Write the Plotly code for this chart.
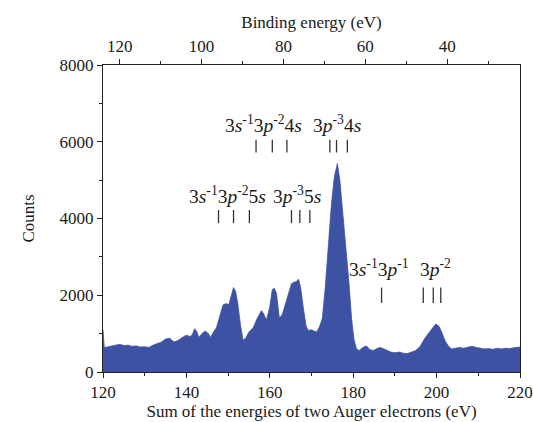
import plotly.graph_objects as go

# Spectrum (sum of energies of two Auger electrons, eV) and counts
energy = [120.0, 120.3, 121, 122, 123, 124, 125, 126, 127, 128, 129, 130, 131, 132, 133, 134,
          135, 136, 137, 138, 139, 140, 141, 141.5, 142, 142.5, 143, 143.7, 144.5, 145.3, 145.8,
          146.5, 147.2, 148, 148.8, 149.5, 150.2, 150.8, 151.3, 151.8, 152.3, 153, 153.6, 154.2,
          155, 156, 157, 158, 158.6, 159.2, 160, 160.6, 161.1, 161.6, 162.3, 163, 163.7, 164.5,
          165.2, 165.8, 166.3, 166.9, 167.4, 168, 168.7, 169.2, 170, 170.7, 171.3, 172, 172.6,
          173.3, 174, 174.8, 175.5, 176.2, 176.8, 177.5, 178.2, 179, 179.6, 180.2, 180.8, 181.5,
          182.3, 183.2, 184, 184.8, 185.5, 186.3, 187, 188, 189, 190, 191, 192, 193, 194, 195,
          196, 197, 198, 199, 199.8, 200.5, 201.2, 202, 202.8, 203.6, 204.5, 205.5, 206.5, 207.5,
          208.5, 209.5, 210.5, 211.5, 212.5, 213.5, 214.5, 215.5, 216.5, 217.5, 218.5, 219.3, 220]
counts = [1100, 640, 650, 680, 700, 720, 690, 700, 670, 680, 650, 660, 640, 700, 740, 780,
          860, 880, 780, 820, 900, 960, 920, 1000, 1130, 1050, 900, 1000, 1070, 1000, 900,
          1050, 1150, 1450, 1750, 1780, 1760, 2000, 2200, 2100, 1800, 1200, 830, 880,
          1040, 1150, 1400, 1600, 1500, 1350, 1700, 2150, 2180, 2050, 1400, 1500, 1750, 2100,
          2300, 2340, 2350, 2420, 2200, 1700, 1200, 1080, 1100, 1060, 1050, 1200, 1400,
          2200, 3200, 4400, 5100, 5430, 5000, 4200, 3200, 2300, 1400, 850, 600, 560,
          640, 680, 580, 560, 600, 640, 620, 560, 520, 500, 520, 490, 480, 520, 560,
          660, 850, 1000, 1150, 1250, 1200, 1050, 820, 680, 600, 610, 640, 620, 650,
          670, 640, 620, 600, 610, 590, 620, 600, 620, 610, 630, 640, 650]

# Assignment labels and their marker positions
label_texts = ["3<i>s</i><sup>-1</sup>3<i>p</i><sup>-2</sup>4<i>s</i>",
               "3<i>p</i><sup>-3</sup>4<i>s</i>",
               "3<i>s</i><sup>-1</sup>3<i>p</i><sup>-2</sup>5<i>s</i>",
               "3<i>p</i><sup>-3</sup>5<i>s</i>",
               "3<i>s</i><sup>-1</sup>3<i>p</i><sup>-1</sup>",
               "3<i>p</i><sup>-2</sup>"]
label_x = [158.5, 176.0, 149.9, 166.5, 186.2, 199.8]
label_y = [6450, 6450, 4600, 4600, 2700, 2700]
marker_x = [[156.7, 160.6, 164.1], [174.4, 176.0, 178.6], [147.7, 151.3, 155.1],
            [165.2, 167.2, 169.6], [186.8], [196.8, 199.2, 201.0]]
marker_lo = [5720, 5720, 3880, 3880, 1800, 1800]
marker_hi = [6050, 6050, 4220, 4220, 2200, 2200]

# Top axis (binding energy)
be_ticks = [120, 100, 80, 60, 40]
be_range = [124.1, 22.2]

fig = go.Figure()
fig.add_trace(go.Scatter(x=energy, y=counts, mode="lines", fill="tozeroy",
                         line=dict(color="rgb(62,82,164)", width=0.8),
                         fillcolor="rgb(62,82,164)", showlegend=False, hoverinfo="skip"))

mx, my = [], []
for xs, lo, hi in zip(marker_x, marker_lo, marker_hi):
    for xv in xs:
        mx += [xv, xv, None]
        my += [lo, hi, None]
fig.add_trace(go.Scatter(x=mx, y=my, mode="lines", line=dict(color="#333333", width=1.3),
                         showlegend=False, hoverinfo="skip"))

fig.add_trace(go.Scatter(x=be_range, y=[None, None], xaxis="x2", mode="lines",
                         showlegend=False, hoverinfo="skip"))

for t, xv, yv in zip(label_texts, label_x, label_y):
    fig.add_annotation(x=xv, y=yv, text=t, showarrow=False, xref="x", yref="y",
                       font=dict(family="Liberation Serif", size=19.5, color="#1a1a1a"))

axis_font = dict(family="Liberation Serif", size=17, color="#1a1a1a")
fig.update_layout(
    width=533, height=422,
    margin=dict(l=103, r=13, t=65, b=50, autoexpand=False),
    plot_bgcolor="white", paper_bgcolor="white",
    font=axis_font,
    xaxis=dict(range=[120, 220], tickvals=[120, 140, 160, 180, 200, 220],
               ticks="outside", ticklen=5, tickwidth=1, tickcolor="#222",
               minor=dict(dtick=10, tick0=120, ticks="outside", ticklen=3, tickcolor="#222"),
               showline=True, linecolor="#222", linewidth=1, showgrid=False, zeroline=False,
               automargin=False,
               title=dict(text="Sum of the energies of two Auger electrons (eV)", standoff=2,
                          font=axis_font),
               tickfont=axis_font),
    xaxis2=dict(range=be_range, overlaying="x", side="top", tickvals=be_ticks,
                ticks="outside", ticklen=5, tickwidth=1, tickcolor="#222",
                minor=dict(dtick=10, tick0=30, ticks="outside", ticklen=3, tickcolor="#222"),
                showline=True, linecolor="#222", linewidth=1, showgrid=False, zeroline=False,
                automargin=False,
                title=dict(text="Binding energy (eV)", standoff=4, font=axis_font),
                tickfont=axis_font),
    yaxis=dict(range=[0, 8000], tickvals=[0, 2000, 4000, 6000, 8000],
               ticks="outside", ticklen=5, tickwidth=1, tickcolor="#222",
               minor=dict(dtick=1000, ticks="outside", ticklen=3, tickcolor="#222"),
               showline=True, mirror=True, linecolor="#222", linewidth=1,
               showgrid=False, zeroline=False, automargin=False,
               title=dict(text="Counts", standoff=20, font=axis_font),
               tickfont=axis_font),
)

fig.write_html("out.html", config={"displayModeBar": False},
               post_script="document.body.style.margin='0';")
